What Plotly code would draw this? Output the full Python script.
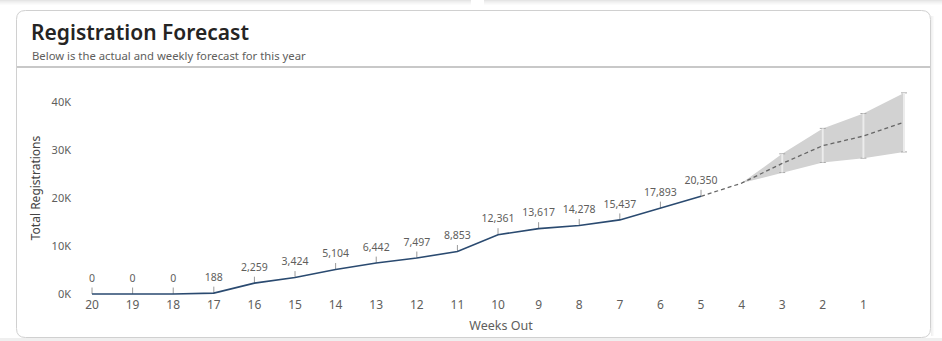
import plotly.graph_objects as go

# ---------------- data ----------------
weeks_actual = [20, 19, 18, 17, 16, 15, 14, 13, 12, 11, 10, 9, 8, 7, 6, 5]
regs_actual = [0, 0, 0, 188, 2259, 3424, 5104, 6442, 7497, 8853,
               12361, 13617, 14278, 15437, 17893, 20350]

weeks_fc = [5, 4, 3, 2, 1, 0]
regs_fc = [20350, 23100, 27200, 30900, 32900, 35800]

weeks_band = [4, 3, 2, 1, 0]
band_low = [23100, 25300, 27400, 28300, 29600]
band_high = [23100, 29200, 34500, 37600, 41900]

weeks_bar = [3, 2, 1, 0]
bar_low = [25300, 27400, 28300, 29600]
bar_high = [29200, 34500, 37600, 41900]
bar_mid = [27200, 30900, 32900, 35800]

x_ticks = [20, 19, 18, 17, 16, 15, 14, 13, 12, 11, 10, 9, 8, 7, 6, 5, 4, 3, 2, 1]
y_ticks = [0, 10000, 20000, 30000, 40000]
y_tick_labels = ["0K", "10K", "20K", "30K", "40K"]

TITLE = "Registration Forecast"
SUBTITLE = "Below is the actual and weekly forecast for this year"

# ---------------- layout geometry ----------------
W, H = 942, 341
ML, MR, MT, MB = 80, 20, 80, 45
PW, PH = W - ML - MR, H - MT - MB


def px(x):
    return (x - ML) / PW


def py(y):
    return 1 - (y - MT) / PH


FONT = "Noto Sans"
GRAY = "#605e5c"

fig = go.Figure()

# forecast band
fig.add_trace(go.Scatter(x=weeks_band, y=band_low, mode="lines",
                         line=dict(width=0, color="#d0d0d0"),
                         hoverinfo="skip", showlegend=False))
fig.add_trace(go.Scatter(x=weeks_band, y=band_high, mode="lines",
                         line=dict(width=0, color="#d0d0d0"),
                         fill="tonexty", fillcolor="#d2d2d2",
                         hoverinfo="skip", showlegend=False))

# error bars (caps, then light stem on top)
err_plus = [h - m for h, m in zip(bar_high, bar_mid)]
err_minus = [m - l for m, l in zip(bar_mid, bar_low)]
fig.add_trace(go.Scatter(x=weeks_bar, y=bar_mid, mode="markers",
                         marker=dict(size=1, color="rgba(0,0,0,0)"),
                         error_y=dict(type="data", symmetric=False,
                                      array=err_plus, arrayminus=err_minus,
                                      color="#a8a8a8", thickness=1, width=3),
                         hoverinfo="skip", showlegend=False))
fig.add_trace(go.Scatter(x=weeks_bar, y=bar_mid, mode="markers",
                         marker=dict(size=1, color="rgba(0,0,0,0)"),
                         error_y=dict(type="data", symmetric=False,
                                      array=err_plus, arrayminus=err_minus,
                                      color="#ececec", thickness=2, width=0),
                         hoverinfo="skip", showlegend=False))

# forecast dashed line
fig.add_trace(go.Scatter(x=weeks_fc, y=regs_fc, mode="lines",
                         line=dict(color="#666666", width=1.3, dash="4px,3px"),
                         showlegend=False))

# actual line with labels and leader ticks
fig.add_trace(go.Scatter(
    x=weeks_actual, y=regs_actual, mode="lines+markers+text",
    line=dict(color="#2a4a70", width=1.6),
    marker=dict(size=14, color="rgba(0,0,0,0)"),
    text=[f"{v:,}" for v in regs_actual],
    textposition="top center",
    textfont=dict(family=FONT, size=10.5, color=GRAY),
    error_y=dict(type="data", symmetric=False,
                 array=[1350] * len(regs_actual),
                 arrayminus=[0] * len(regs_actual),
                 color="#9a9a9a", thickness=1, width=0),
    showlegend=False))

# ---------------- decorations ----------------
shapes = []
# top shadows of neighbouring cards
for x0, x1 in [(0, 471), (484, 942)]:
    for i, op in enumerate([0.10, 0.07, 0.05, 0.03, 0.015]):
        shapes.append(dict(type="rect", xref="paper", yref="paper",
                           x0=px(x0), x1=px(x1), y0=py(i + 1), y1=py(i),
                           line=dict(width=0), fillcolor=f"rgba(0,0,0,{op})",
                           layer="below"))
# bottom band
shapes.append(dict(type="rect", xref="paper", yref="paper",
                   x0=px(0), x1=px(942), y0=py(341), y1=py(338),
                   line=dict(width=0), fillcolor="#efefef", layer="below"))
# card shadow (right)
for i, op in enumerate([0.06, 0.04, 0.02]):
    shapes.append(dict(type="rect", xref="paper", yref="paper",
                       x0=px(931 + i), x1=px(932 + i), y0=py(336), y1=py(16),
                       line=dict(width=0), fillcolor=f"rgba(0,0,0,{op})",
                       layer="below"))

# rounded card
L, R, T, B, r = 16.5, 930.5, 10.5, 337.5, 9


def P(x, y):
    return f"{px(x)},{py(y)}"


path = (f"M {P(L + r, T)} L {P(R - r, T)} Q {P(R, T)} {P(R, T + r)} "
        f"L {P(R, B - r)} Q {P(R, B)} {P(R - r, B)} "
        f"L {P(L + r, B)} Q {P(L, B)} {P(L, B - r)} "
        f"L {P(L, T + r)} Q {P(L, T)} {P(L + r, T)} Z")
shapes.append(dict(type="path", xref="paper", yref="paper", path=path,
                   line=dict(color="#d0d0d0", width=1), fillcolor="white",
                   layer="below"))
# separator under header
shapes.append(dict(type="line", xref="paper", yref="paper",
                   x0=px(17), x1=px(930), y0=py(67), y1=py(67),
                   line=dict(color="#c8c8c8", width=2), layer="below"))

annotations = [
    dict(text=TITLE, xref="paper", yref="paper", x=px(29), y=py(32),
         xanchor="left", yanchor="middle", showarrow=False,
         font=dict(family=FONT, size=21, color="#252423", weight=600)),
    dict(text=SUBTITLE, xref="paper", yref="paper", x=px(30), y=py(55),
         xanchor="left", yanchor="middle", showarrow=False,
         font=dict(family=FONT, size=11.3, color=GRAY)),
]

fig.update_layout(
    width=W, height=H,
    margin=dict(l=ML, r=MR, t=MT, b=MB),
    paper_bgcolor="white", plot_bgcolor="rgba(0,0,0,0)",
    shapes=shapes, annotations=annotations,
    font=dict(family=FONT, color=GRAY),
    xaxis=dict(range=[20.296, -0.443], tickvals=x_ticks,
               ticktext=[str(v) for v in x_ticks], automargin=False,
               showgrid=False, zeroline=False, showline=False, ticks="",
               tickfont=dict(size=12, color=GRAY),
               title=dict(text="Weeks Out", font=dict(size=12.5, color=GRAY),
                          standoff=9)),
    yaxis=dict(range=[-417, 44583], tickvals=y_ticks, ticktext=y_tick_labels,
               automargin=False,
               showgrid=False, zeroline=False, showline=False, ticks="",
               tickfont=dict(size=11, color=GRAY), ticklabelstandoff=8,
               title=dict(text="Total Registrations",
                          font=dict(size=12, color="#444"), standoff=8)),
)

fig.write_html("out.html")
